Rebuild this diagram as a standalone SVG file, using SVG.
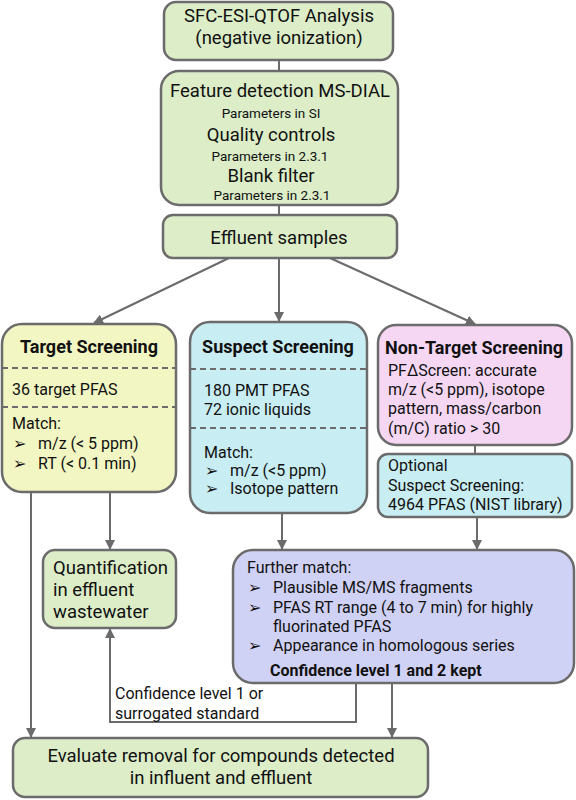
<svg xmlns="http://www.w3.org/2000/svg" width="576" height="800" viewBox="0 0 576 800">
<defs>
<marker id="ah" viewBox="0 0 10 10" refX="9" refY="5" markerWidth="5" markerHeight="5" orient="auto-start-reverse">
<path d="M0,0 L10,5 L0,10 z" fill="#6b6b6b"/>
</marker>
<style>
text{font-family:Roboto,"Liberation Sans",sans-serif;fill:#111}
.box{stroke:#6b6b6b;stroke-width:2.5}
.g{fill:#dcedc8}.y{fill:#f1f6c2}.b{fill:#c8edf3}.p{fill:#f5d7f4}.l{fill:#d0d2f5}
.t{font-size:18.5px}.s{font-size:13.5px}.m{font-size:16px}.h{font-size:18px;font-weight:bold}
.dash{stroke:#6b6b6b;stroke-width:2;stroke-dasharray:6 4}
.c{fill:none;stroke:#6b6b6b;stroke-width:2}
</style>
</defs>
<g id="connectors">
<line class="c" x1="279" y1="60" x2="279" y2="71"/>
<line class="c" x1="279" y1="205" x2="279" y2="215"/>
<line class="c" x1="229" y1="258" x2="94" y2="323" marker-end="url(#ah)"/>
<line class="c" x1="279" y1="258" x2="279" y2="321" marker-end="url(#ah)"/>
<line class="c" x1="330" y1="258" x2="475" y2="324" marker-end="url(#ah)"/>
<line class="c" x1="475" y1="445" x2="475" y2="454"/>
<line class="c" x1="110" y1="492" x2="110" y2="549" marker-end="url(#ah)"/>
<line class="c" x1="31" y1="492" x2="31" y2="737" marker-end="url(#ah)"/>
<line class="c" x1="282" y1="513" x2="282" y2="549" marker-end="url(#ah)"/>
<line class="c" x1="477" y1="517" x2="477" y2="549" marker-end="url(#ah)"/>
<polyline class="c" points="356,683 356,722 110,722 110,629" marker-end="url(#ah)"/>
<line class="c" x1="392" y1="683" x2="392" y2="737" marker-end="url(#ah)"/>
<text class="m" x="115" y="699">Confidence level 1 or</text>
<text class="m" x="115" y="719">surrogated standard</text>
</g>
<g id="sfc">
<rect class="box g" x="164" y="2" width="229" height="58" rx="12"/>
<text class="t" x="279" y="22" text-anchor="middle">SFC-ESI-QTOF Analysis</text>
<text class="t" x="279" y="44" text-anchor="middle">(negative ionization)</text>
</g>
<g id="feature">
<rect class="box g" x="161" y="71" width="237" height="134" rx="18"/>
<text class="t" x="280" y="97" text-anchor="middle">Feature detection MS-DIAL</text>
<text class="s" x="271" y="118" text-anchor="middle">Parameters in SI</text>
<text class="t" x="271" y="141" text-anchor="middle">Quality controls</text>
<text class="s" x="270" y="161" text-anchor="middle">Parameters in 2.3.1</text>
<text class="t" x="271" y="182" text-anchor="middle">Blank filter</text>
<text class="s" x="272" y="200" text-anchor="middle">Parameters in 2.3.1</text>
</g>
<g id="effluent">
<rect class="box g" x="163" y="215" width="234" height="43" rx="10"/>
<text class="t" x="279" y="244" text-anchor="middle">Effluent samples</text>
</g>
<g id="target">
<rect class="box y" x="2" y="324" width="174" height="168" rx="20"/>
<text class="h" x="89" y="353" text-anchor="middle">Target Screening</text>
<line class="dash" x1="2" y1="368" x2="176" y2="368"/>
<text class="m" x="12" y="395">36 target PFAS</text>
<line class="dash" x1="2" y1="407" x2="176" y2="407"/>
<text class="m" x="12" y="429">Match:</text>
<text class="m" x="13" y="449">➢</text>
<text class="m" x="38" y="449">m/z (&lt; 5 ppm)</text>
<text class="m" x="13" y="469">➢</text>
<text class="m" x="38" y="469">RT (&lt; 0.1 min)</text>
</g>
<g id="suspect">
<rect class="box b" x="190" y="322" width="177" height="191" rx="20"/>
<text class="h" x="278" y="353" text-anchor="middle">Suspect Screening</text>
<line class="dash" x1="190" y1="369" x2="367" y2="369"/>
<text class="m" x="204" y="396">180 PMT PFAS</text>
<text class="m" x="204" y="415">72 ionic liquids</text>
<line class="dash" x1="190" y1="428" x2="367" y2="428"/>
<text class="m" x="204" y="458">Match:</text>
<text class="m" x="205" y="476">➢</text>
<text class="m" x="230" y="476">m/z (&lt;5 ppm)</text>
<text class="m" x="205" y="494">➢</text>
<text class="m" x="230" y="494">Isotope pattern</text>
</g>
<g id="nontarget">
<rect class="box p" x="378" y="325" width="194" height="120" rx="18"/>
<text class="h" x="474" y="354" text-anchor="middle">Non-Target Screening</text>
<text class="m" x="388" y="376">PFΔScreen: accurate</text>
<text class="m" x="388" y="395">m/z (&lt;5 ppm), isotope</text>
<text class="m" x="388" y="414">pattern, mass/carbon</text>
<text class="m" x="388" y="434">(m/C) ratio &gt; 30</text>
</g>
<g id="optional">
<rect class="box b" x="378" y="454" width="194" height="63" rx="10"/>
<text class="m" x="388" y="471">Optional</text>
<text class="m" x="388" y="491">Suspect Screening:</text>
<text class="m" x="388" y="510">4964 PFAS (NIST library)</text>
</g>
<g id="quant">
<rect class="box g" x="43" y="550" width="133" height="78" rx="12"/>
<text class="t" x="53" y="574">Quantification</text>
<text class="t" x="53" y="596">in effluent</text>
<text class="t" x="53" y="618">wastewater</text>
</g>
<g id="further">
<rect class="box l" x="233" y="550" width="341" height="133" rx="20"/>
<text class="m" x="247" y="573">Further match:</text>
<text class="m" x="248" y="593">➢</text>
<text class="m" x="273" y="593">Plausible MS/MS fragments</text>
<text class="m" x="248" y="613">➢</text>
<text class="m" x="273" y="613">PFAS RT range (4 to 7 min) for highly</text>
<text class="m" x="273" y="632">fluorinated PFAS</text>
<text class="m" x="248" y="651">➢</text>
<text class="m" x="273" y="651">Appearance in homologous series</text>
<text class="m" x="270" y="676" font-weight="bold" font-size="15.5">Confidence level 1 and 2 kept</text>
</g>
<g id="evaluate">
<rect class="box g" x="13" y="738" width="415" height="59" rx="12"/>
<text class="t" x="221" y="762" text-anchor="middle">Evaluate removal for compounds detected</text>
<text class="t" x="221" y="784" text-anchor="middle">in influent and effluent</text>
</g>
</svg>
